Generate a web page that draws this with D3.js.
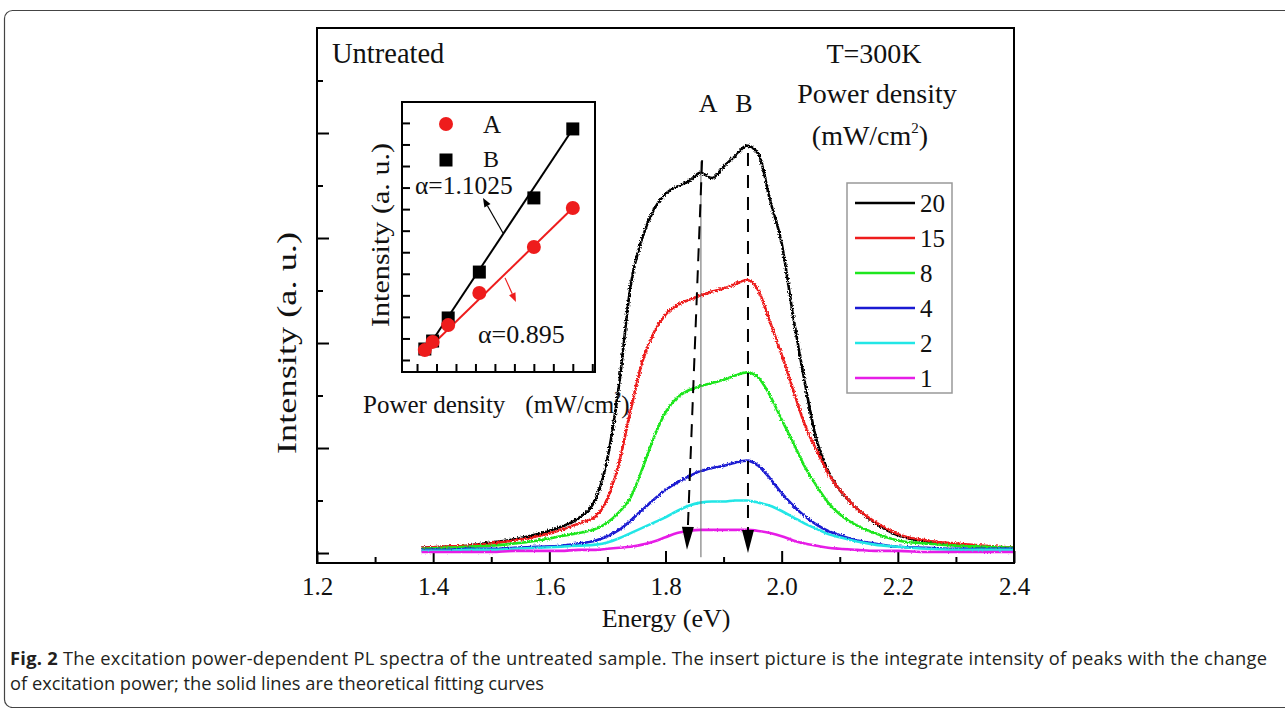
<!DOCTYPE html>
<html>
<head>
<meta charset="utf-8">
<script src="https://cdn.jsdelivr.net/npm/d3@7"></script>
<style>
  body { margin: 0; background: #fff; }
  svg { display: block; }
  .serif { font-family: "Liberation Serif", "Times New Roman", serif; fill: #111; }
</style>
</head>
<body>
<div id="chart"></div>
<script>
// ---- data ----
const energy = [1.38,1.42,1.46,1.50,1.54,1.58,1.62,1.65,1.68,1.70,1.72,1.74,1.76,1.78,1.80,1.82,1.84,1.86,1.88,1.90,1.92,1.94,1.96,1.98,2.00,2.02,2.04,2.06,2.08,2.10,2.13,2.16,2.20,2.25,2.30,2.35,2.40];
const pl20 = [.05,.06,.07,.10,.13,.18,.25,.33,.52,.90,1.60,2.55,3.00,3.27,3.42,3.49,3.54,3.62,3.57,3.68,3.78,3.88,3.80,3.36,2.95,2.25,1.62,1.08,.78,.60,.42,.29,.17,.11,.08,.06,.05];
const pl15 = [.05,.06,.07,.09,.12,.16,.22,.28,.35,.52,.86,1.36,1.82,2.10,2.27,2.36,2.41,2.45,2.49,2.52,2.56,2.60,2.50,2.20,1.89,1.55,1.22,.98,.76,.60,.42,.30,.18,.12,.09,.07,.05];
const pl8  = [.04,.05,.06,.07,.09,.12,.16,.19,.23,.29,.39,.53,.80,1.10,1.34,1.48,1.55,1.59,1.62,1.65,1.69,1.72,1.67,1.50,1.27,1.05,.82,.64,.48,.37,.26,.19,.12,.09,.07,.06,.05];
const pl4  = [.03,.03,.04,.04,.05,.06,.07,.09,.12,.16,.22,.31,.41,.51,.60,.67,.73,.78,.81,.83,.86,.88,.83,.71,.57,.45,.35,.27,.21,.17,.12,.09,.06,.05,.04,.04,.04];
const pl2  = [.02,.02,.03,.03,.04,.05,.06,.07,.08,.10,.14,.19,.24,.29,.34,.40,.45,.48,.49,.49,.50,.50,.48,.45,.40,.34,.28,.23,.18,.15,.11,.08,.06,.04,.03,.03,.03];
const pl1  = [.01,.01,.01,.01,.02,.02,.02,.03,.03,.04,.05,.06,.08,.11,.15,.19,.21,.22,.22,.22,.22,.22,.21,.19,.16,.12,.09,.07,.05,.04,.03,.02,.02,.01,.01,.01,.01];

const legendLabels = ["20","15","8","4","2","1"];
const seriesColors = ["#000000","#ee1c1c","#1ee61e","#1a1ad2","#22e6e6","#e61ee6"];
const seriesData = [pl20, pl15, pl8, pl4, pl2, pl1];

const xTicksMajor = [1.2,1.4,1.6,1.8,2.0,2.2,2.4];
const xTicksMinor = [1.3,1.5,1.7,1.9,2.1,2.3];
const yTicksMajor = [0,1,2,3,4];
const yTicksMinor = [0.5,1.5,2.5,3.5,4.5];

// peak markers: [E top, I top, E bottom, I bottom]
const peakA = [1.863, 3.74, 1.837, 0.03];
const peakB = [1.942, 3.81, 1.942, 0.0];
const markerLine = [1.861, 3.73, -0.04];

// inset data
const power = [1,2,4,8,15,20];
const peakAint = [0.46,0.84,1.62,3.11,5.24,7.05];
const peakBint = [0.51,0.88,1.95,4.08,7.52,10.72];
const fitA = [[1,0.37],[20,7.05]];
const fitB = [[1,0.37],[20,10.72]];
const insetXTicks = [0,2.5,5,7.5,10,12.5,15,17.5,20,22.5];
const insetYTicks = [0,1,2,3,4,5,6,7,8,9,10,11];

// ---- svg ----
const W = 1285, H = 708;
const svg = d3.select("#chart").append("svg").attr("width", W).attr("height", H);

// jitter filters, give the spectra their noisy look (stronger on the bright curves)
const defs = svg.append("defs");
function roughFilter(id, amount) {
  const f = defs.append("filter").attr("id", id)
    .attr("filterUnits", "userSpaceOnUse").attr("x", 300).attr("y", 0).attr("width", 740).attr("height", 600);
  f.append("feTurbulence").attr("type", "fractalNoise").attr("baseFrequency", 0.7)
    .attr("numOctaves", 1).attr("seed", 4).attr("result", "n");
  f.append("feDisplacementMap").attr("in", "SourceGraphic").attr("in2", "n")
    .attr("scale", amount).attr("xChannelSelector", "R").attr("yChannelSelector", "G");
}
roughFilter("rough-hi", 4.5);
roughFilter("rough-mid", 3.5);
roughFilter("rough-lo", 2.5);
const roughness = ["rough-hi", "rough-hi", "rough-mid", "rough-mid", "rough-lo", "rough-lo"];

// outer rounded frame
svg.append("rect").attr("x", 4.5).attr("y", 10.5).attr("width", 1320).attr("height", 697)
  .attr("rx", 8).attr("fill", "none").attr("stroke", "#444").attr("stroke-width", 1.2);

const x = d3.scaleLinear().domain([1.2, 2.4]).range([317, 1014]);
const y = d3.scaleLinear().domain([-0.095, 5.0]).range([563, 28]);

// axes (ticks inward)
const gx = svg.append("g").attr("transform", "translate(0,563)");
gx.call(d3.axisBottom(x).tickValues(xTicksMajor).tickSize(-12).tickPadding(14).tickFormat(d3.format(".1f")));
gx.append("g").call(d3.axisBottom(x).tickValues(xTicksMinor).tickSize(-6).tickFormat(""));
gx.selectAll(".domain").remove();
gx.selectAll("line").attr("stroke", "#000").attr("stroke-width", 2);
gx.selectAll("text").attr("class", "serif").attr("font-size", 25).attr("fill", "#111");

const gy = svg.append("g").attr("transform", "translate(317,0)");
gy.call(d3.axisLeft(y).tickValues(yTicksMajor).tickSize(-12).tickFormat(""));
gy.append("g").call(d3.axisLeft(y).tickValues(yTicksMinor).tickSize(-6).tickFormat(""));
gy.selectAll(".domain").remove();
gy.selectAll("line").attr("stroke", "#000").attr("stroke-width", 2);

// spectra
const line = d3.line().x((d, i) => x(energy[i])).y(d => y(d)).curve(d3.curveMonotoneX);
svg.append("g").selectAll("path").data(seriesData).join("path")
  .attr("d", line)
  .attr("fill", "none")
  .attr("filter", (d, i) => `url(#${roughness[i]})`)
  .attr("stroke", (d, i) => seriesColors[i])
  .attr("stroke-width", 2.6);

// thin solid marker line
svg.append("line")
  .attr("x1", x(markerLine[0])).attr("x2", x(markerLine[0]))
  .attr("y1", y(markerLine[1])).attr("y2", y(markerLine[2]))
  .attr("stroke", "#666").attr("stroke-width", 1);

// dashed peak arrows
function peakArrow(p) {
  const x1 = x(p[0]), y1 = y(p[1]), x2 = x(p[2]), y2 = y(p[3]);
  const ang = Math.atan2(y2 - y1, x2 - x1);
  const len = 23, half = 6;
  const bx = x2 - len * Math.cos(ang), by = y2 - len * Math.sin(ang);
  svg.append("line").attr("x1", x1).attr("y1", y1).attr("x2", bx).attr("y2", by)
    .attr("stroke", "#000").attr("stroke-width", 2).attr("stroke-dasharray", "13,9");
  const px = -Math.sin(ang) * half, py = Math.cos(ang) * half;
  svg.append("path")
    .attr("d", `M${x2},${y2}L${bx + px},${by + py}L${bx - px},${by - py}Z`)
    .attr("fill", "#000");
}
peakArrow(peakA);
peakArrow(peakB);

// frame
svg.append("rect").attr("x", 317).attr("y", 28).attr("width", 1014 - 317).attr("height", 563 - 28)
  .attr("fill", "none").attr("stroke", "#000").attr("stroke-width", 2);

// labels
svg.append("text").attr("class", "serif").attr("x", 666).attr("y", 627)
  .attr("text-anchor", "middle").attr("font-size", 26).text("Energy (eV)");
svg.append("text").attr("class", "serif").attr("transform", "translate(296,343) rotate(-90)")
  .attr("text-anchor", "middle").attr("font-size", 27)
  .attr("textLength", 222).attr("lengthAdjust", "spacingAndGlyphs").text("Intensity (a. u.)");
svg.append("text").attr("class", "serif").attr("x", 332).attr("y", 63).attr("font-size", 28.5).text("Untreated");
svg.append("text").attr("class", "serif").attr("x", 874).attr("y", 63).attr("text-anchor", "middle").attr("font-size", 28).text("T=300K");
svg.append("text").attr("class", "serif").attr("x", 877).attr("y", 103).attr("text-anchor", "middle").attr("font-size", 28).text("Power density");
const unitT = svg.append("text").attr("class", "serif").attr("x", 870).attr("y", 145).attr("text-anchor", "middle").attr("font-size", 28);
unitT.append("tspan").text("(mW/cm");
unitT.append("tspan").attr("font-size", 15).attr("dy", -12).text("2");
unitT.append("tspan").attr("dy", 12).text(")");
svg.append("text").attr("class", "serif").attr("x", x(peakA[0]) + 6).attr("y", 112).attr("text-anchor", "middle").attr("font-size", 26).text("A");
svg.append("text").attr("class", "serif").attr("x", x(peakB[0]) - 4).attr("y", 112).attr("text-anchor", "middle").attr("font-size", 26).text("B");

// legend
const lg = svg.append("g");
lg.append("rect").attr("x", 847).attr("y", 183).attr("width", 105).attr("height", 210)
  .attr("fill", "#fff").attr("stroke", "#999").attr("stroke-width", 1.5);
const rows = lg.selectAll("g.row").data(legendLabels).join("g")
  .attr("transform", (d, i) => `translate(0,${203 + i * 35})`);
rows.append("line").attr("x1", 855).attr("x2", 915).attr("stroke", (d, i) => seriesColors[i]).attr("stroke-width", 2.5);
rows.append("text").attr("class", "serif").attr("x", 920).attr("y", 9).attr("font-size", 25).text(d => d);

// ---- inset ----
const ix = d3.scaleLinear().domain([-1.93, 22.85]).range([402, 595]);
const iy = d3.scaleLinear().domain([-0.557, 11.97]).range([372, 102]);
const ins = svg.append("g");
ins.append("rect").attr("x", 402).attr("y", 102).attr("width", 193).attr("height", 270)
  .attr("fill", "#fff").attr("stroke", "#000").attr("stroke-width", 2);
const igx = ins.append("g").attr("transform", "translate(0,372)")
  .call(d3.axisBottom(ix).tickValues(insetXTicks).tickSize(-8).tickFormat(""));
const igy = ins.append("g").attr("transform", "translate(402,0)")
  .call(d3.axisLeft(iy).tickValues(insetYTicks).tickSize(-8).tickFormat(""));
igx.selectAll(".domain").remove();
igy.selectAll(".domain").remove();
ins.selectAll("line").attr("stroke", "#000").attr("stroke-width", 2);

const fitLine = d3.line().x(d => ix(d[0])).y(d => iy(d[1]));
ins.append("path").attr("d", fitLine(fitB)).attr("stroke", "#000").attr("stroke-width", 2).attr("fill", "none");
ins.append("path").attr("d", fitLine(fitA)).attr("stroke", "#ee1c1c").attr("stroke-width", 2).attr("fill", "none");

ins.selectAll("rect.sq").data(power).join("rect").attr("class", "sq")
  .attr("x", (d) => ix(d) - 6.5).attr("y", (d, i) => iy(peakBint[i]) - 6.5)
  .attr("width", 13).attr("height", 13).attr("fill", "#000");
ins.selectAll("circle.pt").data(power).join("circle").attr("class", "pt")
  .attr("cx", d => ix(d)).attr("cy", (d, i) => iy(peakAint[i])).attr("r", 7).attr("fill", "#ee1c1c");

// inset legend
ins.append("circle").attr("cx", 446).attr("cy", 124).attr("r", 7).attr("fill", "#ee1c1c");
ins.append("text").attr("class", "serif").attr("x", 483).attr("y", 133).attr("font-size", 25).text("A");
ins.append("rect").attr("x", 439.5).attr("y", 153.5).attr("width", 13).attr("height", 13).attr("fill", "#000");
ins.append("text").attr("class", "serif").attr("x", 483).attr("y", 167).attr("font-size", 24).text("B");

// alpha annotations
function smallArrow(from, to, color) {
  const x1 = ix(from[0]), y1 = iy(from[1]), x2 = ix(to[0]), y2 = iy(to[1]);
  const ang = Math.atan2(y2 - y1, x2 - x1);
  const len = 9, half = 3.5;
  const bx = x2 - len * Math.cos(ang), by = y2 - len * Math.sin(ang);
  ins.append("line").attr("x1", x1).attr("y1", y1).attr("x2", bx).attr("y2", by)
    .attr("stroke", color).attr("stroke-width", 1.2);
  const px = -Math.sin(ang) * half, py = Math.cos(ang) * half;
  ins.append("path").attr("d", `M${x2},${y2}L${bx + px},${by + py}L${bx - px},${by - py}Z`).attr("fill", color);
}
smallArrow([11.04, 5.89], [8.47, 7.52], "#000");
smallArrow([11.3, 3.81], [12.7, 2.69], "#ee1c1c");
ins.append("text").attr("class", "serif").attr("x", 415).attr("y", 194).attr("font-size", 25.5).text("α=1.1025");
ins.append("text").attr("class", "serif").attr("x", 478).attr("y", 343).attr("font-size", 26).text("α=0.895");

ins.append("text").attr("class", "serif").attr("transform", "translate(389,235) rotate(-90)")
  .attr("text-anchor", "middle").attr("font-size", 26)
  .attr("textLength", 184).attr("lengthAdjust", "spacingAndGlyphs").text("Intensity (a. u.)");
const ixl = ins.append("text").attr("class", "serif").attr("x", 363).attr("y", 413).attr("font-size", 25);
ixl.append("tspan").text("Power density");
ixl.append("tspan").attr("dx", 20).text("(mW/cm");
ixl.append("tspan").attr("font-size", 14).attr("dy", -11).text("2");
ixl.append("tspan").attr("dy", 11).text(")");

// caption
const cap = svg.append("g").attr("font-family", "'Open Sans', 'Noto Sans', sans-serif").attr("font-size", 18.3).attr("fill", "#231f20");
const c1 = cap.append("text").attr("x", 10).attr("y", 665)
  .attr("textLength", 1257).attr("lengthAdjust", "spacing");
c1.append("tspan").attr("font-weight", "bold").text("Fig. 2");
c1.append("tspan").text(" The excitation power-dependent PL spectra of the untreated sample. The insert picture is the integrate intensity of peaks with the change");
cap.append("text").attr("x", 10).attr("y", 690).text("of excitation power; the solid lines are theoretical fitting curves");
</script>
</body>
</html>
